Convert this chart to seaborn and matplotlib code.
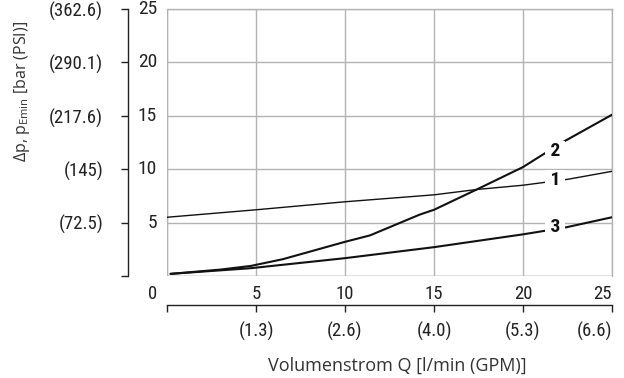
import matplotlib
matplotlib.use("Agg")
import matplotlib.pyplot as plt
from matplotlib import font_manager
import pandas as pd
import seaborn as sns

# flow Q [l/min] and pressure drop [bar]
q_curve1 = [0.0, 5.0, 10.0, 15.0, 17.4, 20.0, 22.5, 25.0]
dp_curve1 = [5.5, 6.2, 6.95, 7.6, 8.1, 8.5, 9.05, 9.8]

q_curve2 = [0.2, 3.0, 4.7, 6.5, 10.0, 11.4, 14.2, 15.0, 17.4, 20.0, 21.0, 22.2, 25.0]
dp_curve2 = [0.2, 0.6, 0.94, 1.57, 3.2, 3.8, 5.75, 6.2, 8.1, 10.2, 11.25, 12.5, 15.1]

q_curve3 = [0.2, 4.7, 10.0, 15.0, 20.0, 22.4, 25.0]
dp_curve3 = [0.2, 0.73, 1.67, 2.7, 3.9, 4.55, 5.5]

bar_ticks = [0, 5, 10, 15, 20, 25]
psi_labels = ["", "(72.5)", "(145)", "(217.6)", "(290.1)", "(362.6)"]
lpm_ticks = [0, 5, 10, 15, 20, 25]
gpm_labels = ["", "(1.3)", "(2.6)", "(4.0)", "(5.3)", "(6.6)"]

curve_labels = ["1", "2", "3"]
label_q = [21.8, 21.8, 21.8]
label_dp = [9.0, 11.7, 4.6]


def pick_font(preferred):
    available = {f.name for f in font_manager.fontManager.ttflist}
    for name in preferred:
        if name in available:
            return name
    return "DejaVu Sans"


sns.set_theme(style="white")
narrow = pick_font(["Roboto Condensed", "Archivo Narrow", "PT Sans Narrow",
                    "Liberation Sans Narrow", "Pragati Narrow", "Fira Sans Condensed"])
plain = pick_font(["Open Sans", "Noto Sans", "Lato"])
plt.rcParams["font.family"] = [narrow, "DejaVu Sans"]
plt.rcParams["mathtext.fontset"] = "custom"
plt.rcParams["mathtext.rm"] = plain
plt.rcParams["axes.unicode_minus"] = False

TEXT = "#222222"
GRID = "#b3b3b3"

fig = plt.figure(figsize=(6.24, 3.78), dpi=100)
W, H = 624, 378
ax = fig.add_axes([167 / W, (H - 276) / H, 445 / W, 267 / H])

curves = [(q_curve1, dp_curve1, 1.0), (q_curve2, dp_curve2, 1.5), (q_curve3, dp_curve3, 1.5)]
for q, dp, lw in curves:
    df = pd.DataFrame({"Q": q, "dp": dp})
    sns.lineplot(data=df, x="Q", y="dp", ax=ax, color="#111111", linewidth=lw, zorder=3)

ax.set_xlim(0, 25)
ax.set_ylim(0, 25)
ax.set_xlabel("")
ax.set_ylabel("")
ax.grid(True, color=GRID, linewidth=1.0)
ax.set_axisbelow(True)

for side in ["top", "right"]:
    ax.spines[side].set_color(GRID)
    ax.spines[side].set_linewidth(1.0)
ax.spines["left"].set_position(("outward", 28))
ax.spines["bottom"].set_position(("outward", 21))
for side in ["left", "bottom"]:
    ax.spines[side].set_color("#222222")
    ax.spines[side].set_linewidth(1.0)

ax.set_yticks(bar_ticks)
ax.set_yticklabels(psi_labels)
ax.set_xticks(lpm_ticks)
ax.set_xticklabels(gpm_labels)
ax.tick_params(axis="both", direction="out", length=5, width=1.0, color="#222222",
               labelsize=13.5, labelcolor=TEXT)
ax.tick_params(axis="y", pad=13, left=True)
ax.tick_params(axis="x", pad=7, bottom=True)
ax.get_xticklabels()[-1].set_ha("right")

# the gray grid at the axis limits closes the plot box
ax.axvline(0, color=GRID, linewidth=1.0, zorder=1)
ax.axhline(0, color=GRID, linewidth=1.0, zorder=1)

# bar values right of the left axis
ytrans = ax.get_yaxis_transform()
for v in bar_ticks[1:]:
    ax.text(-10 / 445, v, str(v), transform=ytrans, ha="right", va="center",
            fontsize=14, color=TEXT, clip_on=False)

# l/min values above the bottom axis
xtrans = ax.get_xaxis_transform()
for v in lpm_ticks[1:]:
    ax.text(v, -18 / 267, str(v), transform=xtrans, ha="right" if v == 25 else "center",
            va="center", fontsize=13.5, color=TEXT, clip_on=False)
ax.text(-0.55, -18 / 267, "0", transform=xtrans, ha="right", va="center",
        fontsize=13.5, color=TEXT, clip_on=False)

for name, q, dp in zip(curve_labels, label_q, label_dp):
    ax.text(q, dp, f" {name} ", ha="center", va="center", fontsize=14, fontweight="bold",
            color="#111111", zorder=4,
            bbox=dict(boxstyle="square,pad=0.05", facecolor="white", edgecolor="none"))

fig.text(22 / W, 1 - 91 / H, r"Δp, p$_{\mathrm{Emin}}$ [bar (PSI)]", rotation=90,
         ha="center", va="center", fontsize=11.5, color="#333333", family=[plain, "DejaVu Sans"])
fig.text(397 / W, 1 - 366 / H, "Volumenstrom Q [l/min (GPM)]", ha="center", va="center",
         fontsize=13, color="#333333", family=[plain, "DejaVu Sans"])

fig.savefig("out.png", dpi=100)
